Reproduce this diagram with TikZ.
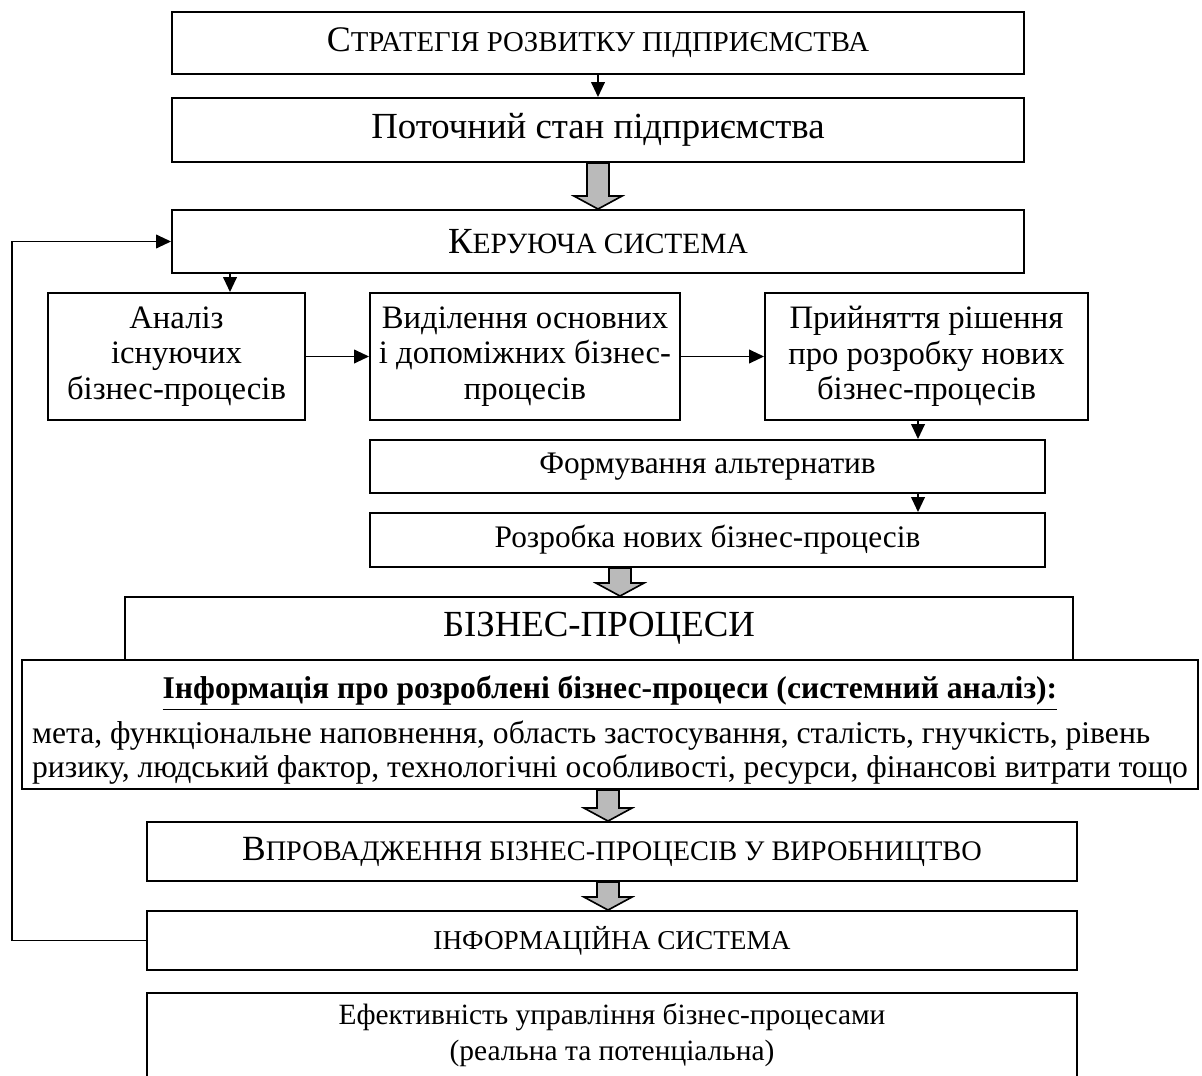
\documentclass[tikz,border=0pt]{standalone}
\usepackage{fontspec}
\setmainfont{Liberation Serif}
\usetikzlibrary{arrows.meta, calc, shadows}

\newcommand{\pxu}{0.367pt}
% fake small caps: first letter full size, rest smaller
\newcommand{\sccap}[2]{#1{\fontsize{0.8\dimexpr\fontdimen6\font\relax}{12}\selectfont #2}}
% grey block arrow from node #1 to node #2 at the x of coordinate #3
\newcommand{\bigarrow}[3]{%
  \draw[grarr] ($(#1.south -| #3)+(-11,0)$) -- ($(#2.north -| #3)+(-11,-13)$)
    -- ($(#2.north -| #3)+(-24,-13)$) -- (#2.north -| #3)
    -- ($(#2.north -| #3)+(24,-13)$) -- ($(#2.north -| #3)+(11,-13)$)
    -- ($(#1.south -| #3)+(11,0)$) -- cycle;}

\tikzset{
  box/.style={draw, line width=0.7pt, fill=white, inner sep=2pt, align=center,
    font=\fontsize{12}{13}\selectfont,
    drop shadow={shadow xshift=0.5pt, shadow yshift=-0.5pt, fill=black!45, opacity=1}},
  arr/.style={line width=0.7pt, -{Triangle[length=5.5pt,width=5pt]}},
  grarr/.style={draw, line width=0.6pt, fill=black!27},
}

\begin{document}
\begin{tikzpicture}[x=0.367pt, y=-0.367pt]
  \useasboundingbox (0,0) rectangle (1202,1076);
  \clip (0,0) rectangle (1202,1076);

  \node[box, minimum width=852*\pxu, minimum height=62*\pxu, font=\fontsize{13.2}{14}\selectfont] (strat) at (598, 43)
    {\sccap{С}{ТРАТЕГІЯ РОЗВИТКУ ПІДПРИЄМСТВА}};
  \node[box, minimum width=852*\pxu, minimum height=64*\pxu, font=\fontsize{13.5}{14}\selectfont] (stan) at (598, 130)
    {Поточний стан підприємства};
  \node[box, minimum width=852*\pxu, minimum height=63*\pxu, font=\fontsize{13.5}{14}\selectfont] (kerui) at (598, 241.5)
    {\sccap{К}{ЕРУЮЧА СИСТЕМА}};

  \node[box, minimum width=257*\pxu, minimum height=127*\pxu] (analiz) at (176.5, 356.5)
    {Аналіз\\ існуючих\\ бізнес-процесів};
  \node[box, minimum width=310*\pxu, minimum height=127*\pxu] (vydil) at (525, 356.5)
    {Виділення основних\\ і допоміжних бізнес-\\ процесів};
  \node[box, minimum width=323*\pxu, minimum height=127*\pxu] (priin) at (926.5, 356.5)
    {Прийняття рішення\\ про розробку нових\\ бізнес-процесів};

  \node[box, minimum width=675*\pxu, minimum height=53*\pxu, font=\fontsize{11.5}{13}\selectfont] (alter) at (707.5, 466.5)
    {Формування альтернатив};
  \node[box, minimum width=675*\pxu, minimum height=54*\pxu, font=\fontsize{11.5}{13}\selectfont] (rozrob) at (707.5, 540)
    {Розробка нових бізнес-процесів};

  \node[draw, line width=0.7pt, fill=white, minimum width=948*\pxu, minimum height=63*\pxu,
    font=\fontsize{13.5}{15}\selectfont] (biznes) at (599, 628.5) {БІЗНЕС-ПРОЦЕСИ};
  \node[box, minimum width=1176*\pxu, minimum height=129*\pxu, inner sep=0pt,
    font=\fontsize{11.6}{11.6}\selectfont] (info) at (610, 724.5)
    {\raisebox{-2.7pt}[\height][\depth]{\begin{tabular}{@{}l@{}}
       \multicolumn{1}{@{}c@{}}{\bfseries\underline{Інформація про розроблені бізнес-процеси (системний аналіз):}}\\[4.5pt]
       мета, функціональне наповнення, область застосування, сталість, гнучкість, рівень\\[0.9pt]
       ризику, людський фактор, технологічні особливості, ресурси, фінансові витрати тощо
     \end{tabular}}};

  \node[box, minimum width=930*\pxu, minimum height=59*\pxu, font=\fontsize{13}{14}\selectfont] (vprov) at (612, 851.5)
    {\sccap{В}{ПРОВАДЖЕННЯ БІЗНЕС-ПРОЦЕСІВ У ВИРОБНИЦТВО}};
  \node[box, minimum width=930*\pxu, minimum height=59*\pxu, font=\fontsize{10}{12}\selectfont] (infsys) at (612, 940.5)
    {ІНФОРМАЦІЙНА СИСТЕМА};
  \node[box, minimum width=930*\pxu, minimum height=97*\pxu, font=\fontsize{10.8}{13}\selectfont] (efekt) at (612, 1041.5)
    {Ефективність управління бізнес-процесами\\ (реальна та потенціальна)\\[-6pt]\mbox{}};

  \coordinate (xmid) at (598, 0);
  \coordinate (xa) at (230, 0);
  \coordinate (xr) at (918, 0);
  \coordinate (xb) at (620, 0);
  \coordinate (xc) at (608, 0);
  \coordinate (back) at (12, 241.5);

  \draw[arr] (strat) -- (stan);
  \bigarrow{stan}{kerui}{xmid}
  \draw[arr] (kerui.south -| xa) -- (analiz.north -| xa);
  \draw[arr] (analiz) -- (vydil);
  \draw[arr] (vydil) -- (priin);
  \draw[arr] (priin.south -| xr) -- (alter.north -| xr);
  \draw[arr] (alter.south -| xr) -- (rozrob.north -| xr);
  \bigarrow{rozrob}{biznes}{xb}
  \bigarrow{info}{vprov}{xc}
  \bigarrow{vprov}{infsys}{xc}

  % feedback
  \draw[arr] (infsys.west) -| (back) -- (kerui.west);
\end{tikzpicture}
\end{document}
